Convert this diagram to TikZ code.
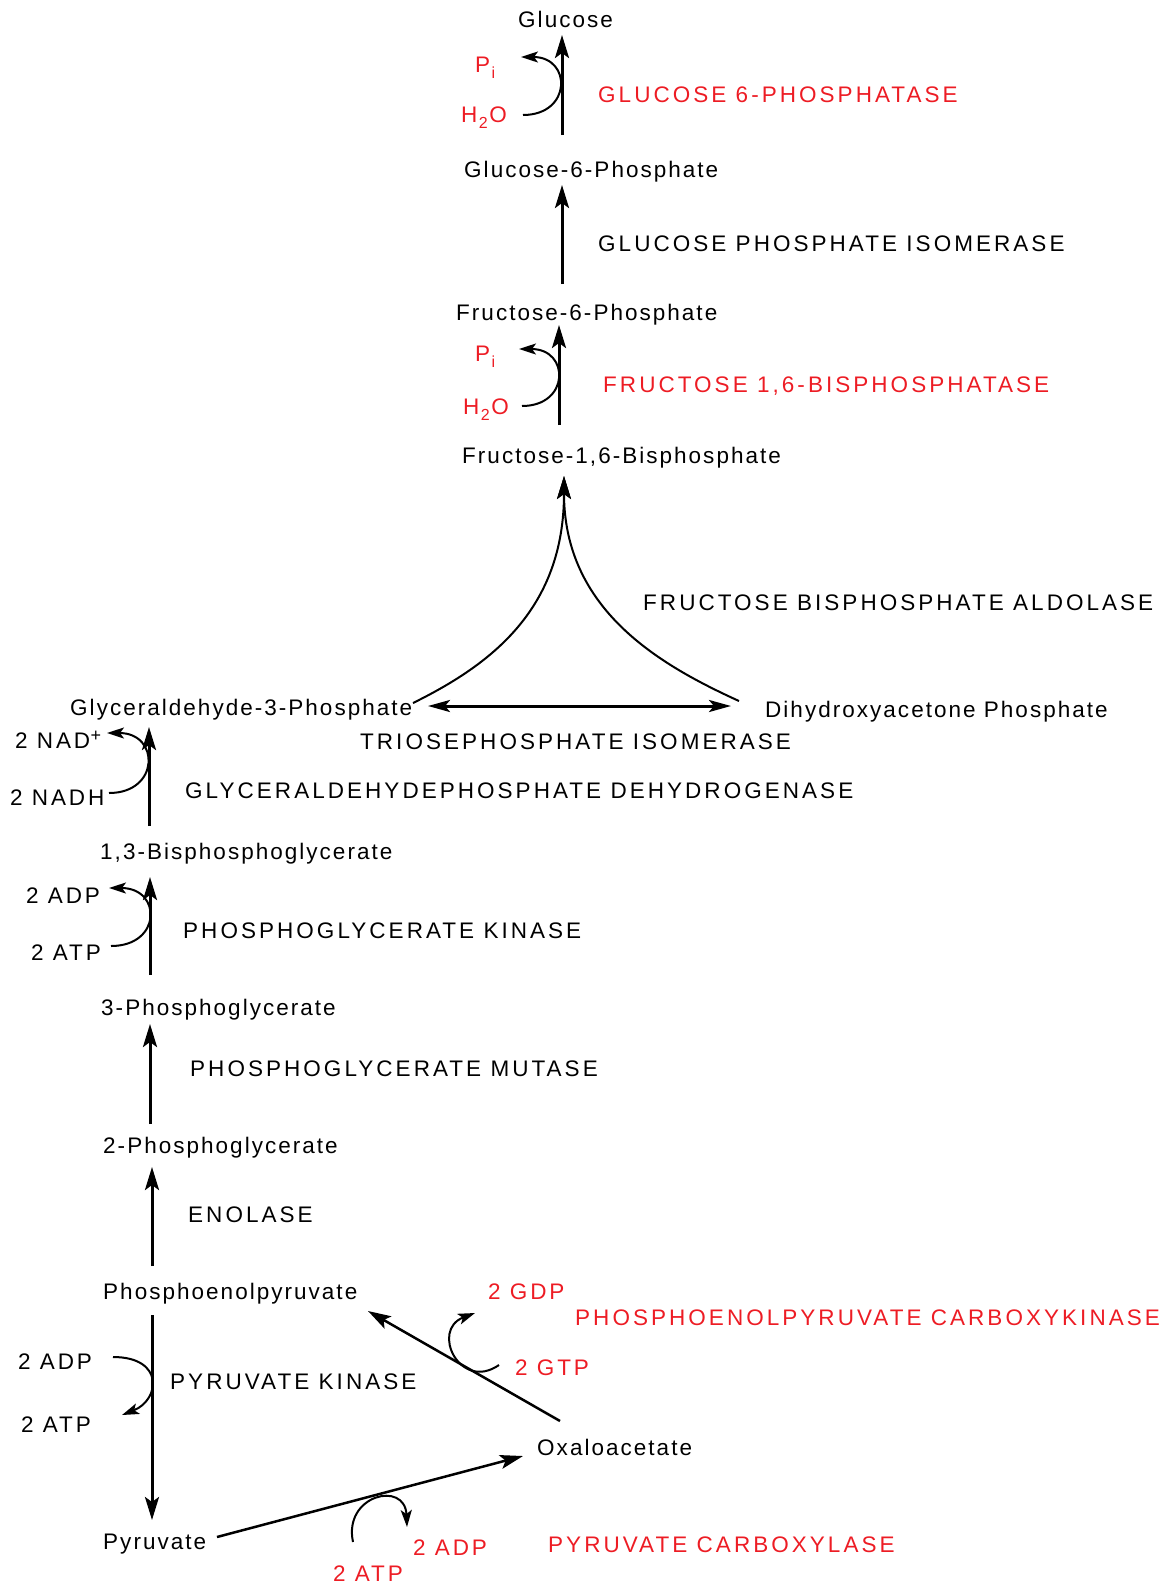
\documentclass[tikz,border=0pt]{standalone}
\usepackage{fontspec}
\setmainfont{Liberation Sans}
\newfontfamily\metafam{Liberation Sans}[LetterSpace=9]
\newfontfamily\cofam{Liberation Sans}[LetterSpace=13]
\newfontfamily\enzfam{Liberation Sans}[LetterSpace=13.5]
\newcommand\labelfnt{\metafam\fontsize{22.5}{27}\selectfont}
\newcommand\cofnt{\cofam\fontsize{22.5}{27}\selectfont}
\newcommand\enzfnt{\enzfam\fontsize{22.5}{27}\selectfont}
\newcommand\subs[1]{\kern1.5pt\raisebox{-6pt}{\fontsize{16}{16}\selectfont #1}\kern1.5pt}
\newcommand\sups[1]{\kern0.5pt\raisebox{7pt}{\fontsize{18}{18}\selectfont #1}}
\usetikzlibrary{arrows.meta}
\definecolor{enzred}{RGB}{237,28,36}

\begin{document}
\begin{tikzpicture}[x=1pt,y=-1pt,
  txt/.style={inner sep=0pt, anchor=west, text height=16pt, text depth=0pt, font=\labelfnt},
  cof/.style={txt, font=\cofnt},
  enz/.style={txt, font=\enzfnt},
  redtxt/.style={text=enzred},
  bigtip/.tip={Stealth[length=23pt,width=14pt,inset=5pt]},
  flattip/.tip={Stealth[length=22pt,width=12pt,inset=5pt]},
  smalltip/.tip={Stealth[length=17pt,width=11pt,inset=4pt]},
  mainarr/.style={line width=3pt, -bigtip},
  sidearr/.style={line width=2pt, -smalltip},
  bothway/.style={line width=3pt, flattip-flattip}]
\useasboundingbox (0,0) rectangle (1172,1588);

% ---- metabolites
\node[txt] (glc)  at (518,19)   {Glucose};
\node[txt] (g6p)  at (464,169)  {Glucose-6-Phosphate};
\node[txt] (f6p)  at (456,312)  {Fructose-6-Phosphate};
\node[txt] (fbp)  at (462,455)  {Fructose-1,6-Bisphosphate};
\node[txt] (gap)  at (70,707)   {Glyceraldehyde-3-Phosphate};
\node[txt] (dhap) at (765,709)  {Dihydroxyacetone Phosphate};
\node[txt] (bpg)  at (100,851)  {1,3-Bisphosphoglycerate};
\node[txt] (pg3)  at (101,1007) {3-Phosphoglycerate};
\node[txt] (pg2)  at (103,1145) {2-Phosphoglycerate};
\node[txt] (pep)  at (103,1291) {Phosphoenolpyruvate};
\node[txt] (pyr)  at (103,1541) {Pyruvate};
\node[txt] (oaa)  at (537,1447) {Oxaloacetate};

% ---- cofactors
\node[cof,redtxt] (pi1)  at (475,64)  {P\subs{i}};
\node[cof,redtxt] (h2o1) at (461,114) {H\subs{2}O};
\node[cof,redtxt] (pi2)  at (475,353) {P\subs{i}};
\node[cof,redtxt] (h2o2) at (463,406) {H\subs{2}O};
\node[cof] (nad)   at (15,740)  {2 NAD\sups{+}};
\node[cof] (nadh)  at (10,797)  {2 NADH};
\node[cof] (adp1)  at (26,895)  {2 ADP};
\node[cof] (atp1)  at (31,952)  {2 ATP};
\node[cof] (adp2)  at (18,1361) {2 ADP};
\node[cof] (atp2)  at (21,1424) {2 ATP};
\node[cof,redtxt] (gdp)  at (488,1291) {2 GDP};
\node[cof,redtxt] (gtp)  at (515,1367) {2 GTP};
\node[cof,redtxt] (adp3) at (413,1547) {2 ADP};
\node[cof,redtxt] (atp3) at (333,1573) {2 ATP};

% ---- enzymes
\node[enz,redtxt] (e1) at (598,94)   {GLUCOSE 6-PHOSPHATASE};
\node[enz] (e2) at (598,243)  {GLUCOSE PHOSPHATE ISOMERASE};
\node[enz,redtxt] (e3) at (603,384)  {FRUCTOSE 1,6-BISPHOSPHATASE};
\node[enz] (e4) at (643,602)  {FRUCTOSE BISPHOSPHATE ALDOLASE};
\node[enz] (e5) at (360,741)  {TRIOSEPHOSPHATE ISOMERASE};
\node[enz] (e6) at (185,790)  {GLYCERALDEHYDEPHOSPHATE DEHYDROGENASE};
\node[enz] (e7) at (183,930)  {PHOSPHOGLYCERATE KINASE};
\node[enz] (e8) at (190,1068) {PHOSPHOGLYCERATE MUTASE};
\node[enz] (e9) at (188,1214) {ENOLASE};
\node[enz] (e10) at (170,1381) {PYRUVATE KINASE};
\node[enz,redtxt] (e11) at (575,1317) {PHOSPHOENOLPYRUVATE CARBOXYKINASE};
\node[enz,redtxt] (e12) at (548,1544) {PYRUVATE CARBOXYLASE};

% ---- arrow end points
\coordinate (glcA) at (562,35);    \coordinate (g6pB) at (562,135);
\coordinate (g6pA) at (562,185);   \coordinate (f6pB) at (562,284);
\coordinate (f6pA) at (559,325);   \coordinate (fbpB) at (559,425);
\coordinate (fbpA) at (564,476);
\coordinate (gapR) at (413,703);   \coordinate (dhapL) at (739,701);
\coordinate (isoL) at (428,706);   \coordinate (isoR) at (731,706);
\coordinate (gapA) at (149,727);   \coordinate (bpgB) at (149,826);
\coordinate (bpgA) at (150,877);   \coordinate (pg3B) at (150,975);
\coordinate (pg3A) at (150,1024);  \coordinate (pg2B) at (150,1124);
\coordinate (pg2A) at (152,1167);  \coordinate (pepB) at (152,1266);
\coordinate (pepC) at (152,1315);  \coordinate (pyrA) at (152,1520);
\coordinate (pyrR) at (217,1537);  \coordinate (oaaA) at (523,1456);
\coordinate (oaaS) at (560,1421);  \coordinate (pepR) at (368,1311);

% ---- main reactions
\draw[mainarr] (g6pB) -- (glcA);
\draw[mainarr] (f6pB) -- (g6pA);
\draw[mainarr] (fbpB) -- (f6pA);
\draw[line width=2pt, -bigtip] (gapR) .. controls (490,665) and (564,610) .. (fbpA);
\draw[line width=2pt, -bigtip] (dhapL) .. controls (660,665) and (564,610) .. (fbpA);
\draw[bothway] (isoL) -- (isoR);
\draw[mainarr] (bpgB) -- (gapA);
\draw[mainarr] (pg3B) -- (bpgA);
\draw[mainarr] (pg2B) -- (pg3A);
\draw[mainarr] (pepB) -- (pg2A);
\draw[mainarr] (pepC) -- (pyrA);
\draw[line width=2.5pt, -bigtip] (pyrR) -- (oaaA);
\draw[line width=2.5pt, -bigtip] (oaaS) -- (pepR);

% ---- cofactor side arrows
\draw[sidearr] (523,115) .. controls (572,115) and (572,57) .. (521,57);
\draw[sidearr] (522,406) .. controls (570,406) and (570,349) .. (519,349);
\draw[sidearr] (109,793) .. controls (160,793) and (160,733) .. (107,733);
\draw[sidearr] (111,946) .. controls (162,946) and (162,888) .. (109,888);
\draw[sidearr] (113,1357) .. controls (165,1357) and (160,1400) .. (122,1415);
\draw[sidearr] (499,1365) .. controls (460,1392) and (430,1330) .. (475,1313);
\draw[sidearr] (353,1542) .. controls (343,1495) and (405,1480) .. (407,1527);
\end{tikzpicture}
\end{document}
